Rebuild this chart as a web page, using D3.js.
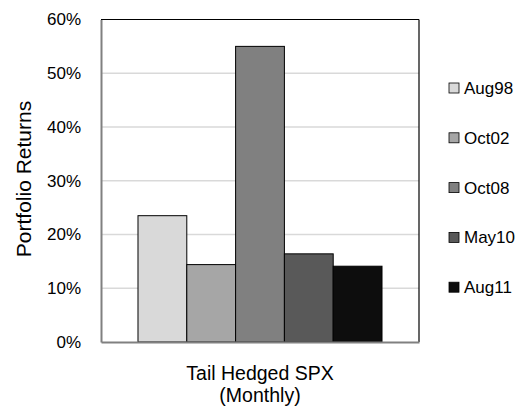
<!DOCTYPE html>
<html><head><meta charset="utf-8">
<script src="https://cdn.jsdelivr.net/npm/d3@7"></script>
<style>body{margin:0;background:#fff}svg{display:block}text{font-family:"Liberation Sans",Arial,sans-serif;fill:#000}</style>
</head><body><svg id="c" width="524" height="412"></svg>
<script>
const categories = ["Tail Hedged SPX"];
const seriesNames = ["Aug98","Oct02","Oct08","May10","Aug11"];
const seriesValues = [23.5, 14.4, 55.0, 16.4, 14.1];
const seriesColors = ["#d9d9d9","#a6a6a6","#808080","#595959","#0d0d0d"];
const yTicks = [0,10,20,30,40,50,60];

const svg = d3.select("#c");
const m = {l:101, r:419, t:19.5, b:342};
const y = d3.scaleLinear().domain([0,60]).range([m.b, m.t]);
const x0 = d3.scaleBand().domain(categories).range([m.l, m.r]).paddingInner(0).paddingOuter(0.1516);
const x1 = d3.scaleBand().domain(seriesNames).range([0, x0.bandwidth()]);

// gridlines
svg.append("g").selectAll("line").data(yTicks.filter(d=>d>0&&d<60)).join("line")
  .attr("x1", m.l).attr("x2", m.r).attr("y1", d=>y(d)).attr("y2", d=>y(d))
  .attr("stroke", "#d9d9d9").attr("stroke-width", 1.5);

// frame top/right
svg.append("line").attr("x1", m.l).attr("x2", m.r).attr("y1", m.t).attr("y2", m.t).attr("stroke","#000").attr("stroke-width",1.2);
svg.append("line").attr("x1", m.r).attr("x2", m.r).attr("y1", m.t).attr("y2", m.b).attr("stroke","#000").attr("stroke-width",1.2);

// bars
const g = svg.append("g").attr("transform", `translate(${x0(categories[0])},0)`);
g.selectAll("rect").data(seriesNames.map((n,i)=>({n, v:seriesValues[i], c:seriesColors[i]}))).join("rect")
  .attr("x", d=>x1(d.n)).attr("width", x1.bandwidth())
  .attr("y", d=>y(d.v)).attr("height", d=>y(0)-y(d.v))
  .attr("fill", d=>d.c).attr("stroke","#000").attr("stroke-width",1);

// axes
const ya = svg.append("g").attr("transform", `translate(${m.l},0)`)
  .call(d3.axisLeft(y).tickValues(yTicks).tickFormat(d=>d+"%").tickSize(0).tickPadding(20));
ya.select(".domain").attr("stroke","#808080").attr("stroke-width",2);
ya.selectAll("text").attr("font-size","17px").attr("font-family","Liberation Sans, Arial, sans-serif").attr("fill","#000");

const xa = svg.append("g").attr("transform", `translate(0,${m.b})`)
  .call(d3.axisBottom(x0).tickSize(0).tickFormat(""));
xa.select(".domain").attr("stroke","#808080").attr("stroke-width",2);

// x label
const cx = x0(categories[0]) + x0.bandwidth()/2;
const xl = svg.append("text").attr("text-anchor","middle").attr("font-size","19.5px");
xl.append("tspan").attr("x",cx).attr("y",380).text(categories[0]);
xl.append("tspan").attr("x",cx).attr("y",402).text("(Monthly)");

// y title
svg.append("text").attr("transform","translate(31,179) rotate(-90)").attr("text-anchor","middle")
  .attr("font-size","21px").text("Portfolio Returns");

// legend
const leg = svg.append("g").selectAll("g").data(seriesNames).join("g")
  .attr("transform",(d,i)=>`translate(449,${88+i*49.8})`);
leg.append("rect").attr("x",0).attr("y",-5).attr("width",10).attr("height",10)
  .attr("fill",(d,i)=>seriesColors[i]).attr("stroke","#000").attr("stroke-width",0.8);
leg.append("text").attr("x",15).attr("y",6).attr("font-size","17px").text(d=>d);
</script></body></html>
